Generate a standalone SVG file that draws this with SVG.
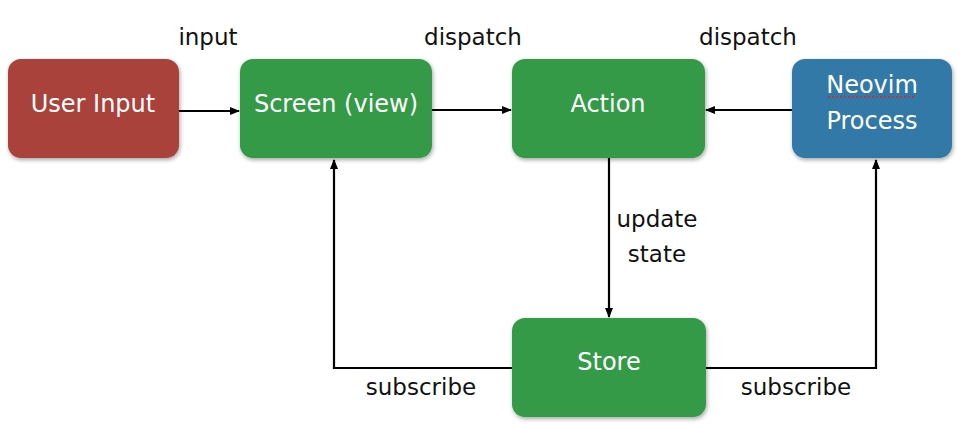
<svg xmlns="http://www.w3.org/2000/svg" width="959" height="424" viewBox="0 0 959 424">
<style>
.node{stroke:none;filter:url(#sh)}
.red{fill:#A9433A}
.green{fill:#349A46}
.blue{fill:#3179A8}
.nt{font-family:"DejaVu Sans",sans-serif;font-size:24px;fill:#fff;text-anchor:middle}
.lb{font-family:"DejaVu Sans",sans-serif;font-size:23px;fill:#111;text-anchor:middle}
.ln{fill:none;stroke:#000;stroke-width:2.2;marker-end:url(#ah)}
</style>
<defs>
<filter id="sh" x="-10%" y="-10%" width="130%" height="130%">
<feDropShadow dx="1" dy="2" stdDeviation="2" flood-color="#000" flood-opacity="0.35"/>
</filter>
<marker id="ah" markerWidth="10" markerHeight="10" refX="9" refY="4" orient="auto" markerUnits="userSpaceOnUse">
<path d="M0,0 L10,4 L0,8 Z" fill="#000"/>
</marker>
</defs>
<rect width="959" height="424" fill="#fff"/>
<g id="connectors">
<path class="ln" d="M179,111 L239,111"/>
<path class="ln" d="M432,110 L511,110"/>
<path class="ln" d="M792,110 L706,110"/>
<path class="ln" d="M609,158 L609,317"/>
<path class="ln" d="M512,368 L334,368 L334,160"/>
<path class="ln" d="M706,368 L876,368 L876,160"/>
</g>
<g id="labels">
<text class="lb" x="208" y="45">input</text>
<text class="lb" x="473" y="45">dispatch</text>
<text class="lb" x="748" y="45">dispatch</text>
<text class="lb" x="657" y="227">update</text>
<text class="lb" x="657" y="262">state</text>
<text class="lb" x="421" y="395">subscribe</text>
<text class="lb" x="796" y="395">subscribe</text>
</g>
<g id="user-input">
<rect class="node red" x="8" y="59" width="171" height="99" rx="13"/>
<text class="nt" x="93" y="112">User Input</text>
</g>
<g id="screen">
<rect class="node green" x="240" y="59" width="192" height="99" rx="13"/>
<text class="nt" x="336" y="112">Screen (view)</text>
</g>
<g id="action">
<rect class="node green" x="512" y="59" width="193" height="99" rx="13"/>
<text class="nt" x="608" y="112">Action</text>
</g>
<g id="neovim">
<rect class="node blue" x="792" y="59" width="160" height="99" rx="13"/>
<text class="nt" x="872" y="93">Neovim</text>
<text class="nt" x="872" y="129">Process</text>
<line x1="828" y1="97" x2="914" y2="97" stroke="#e02020" stroke-width="1.5" stroke-dasharray="2,2"/>
</g>
<g id="store">
<rect class="node green" x="512" y="318" width="194" height="99" rx="13"/>
<text class="nt" x="609" y="370">Store</text>
</g>
</svg>
